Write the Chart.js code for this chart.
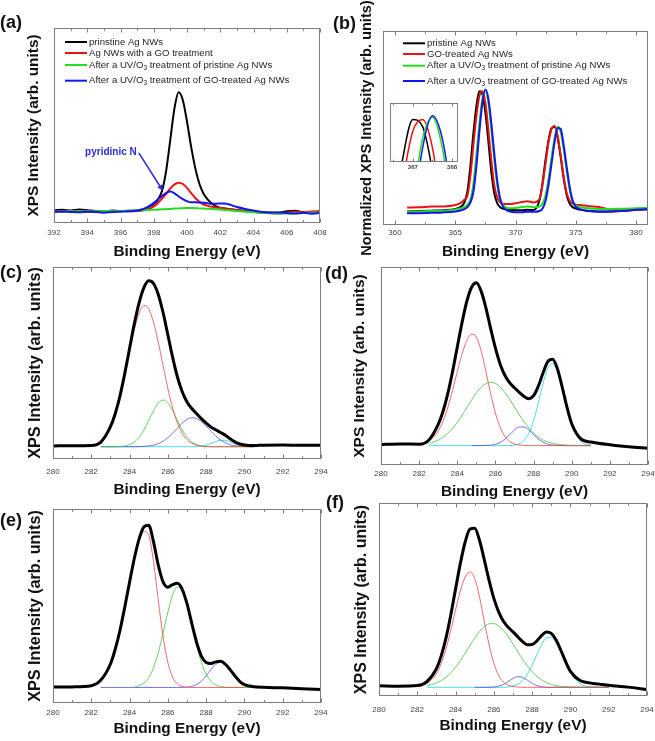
<!DOCTYPE html>
<html>
<head>
<meta charset="utf-8">
<title>XPS spectra of Ag NWs</title>
<script src="https://cdn.jsdelivr.net/npm/chart.js"></script>
<style>
  html, body { margin: 0; padding: 0; background: #fff; }
  #page { position: relative; width: 655px; height: 741px; overflow: hidden; }
  canvas { position: absolute; }
</style>
</head>
<body>
<div id="page">
  <canvas id="cA" width="330" height="264" style="left:0px;top:0px;width:330px;height:264px"></canvas>
  <canvas id="cB" width="331" height="266" style="left:324px;top:0px;width:331px;height:266px"></canvas>
  <canvas id="cC" width="330" height="241" style="left:0px;top:262px;width:330px;height:241px"></canvas>
  <canvas id="cD" width="331" height="239" style="left:324px;top:262px;width:331px;height:239px"></canvas>
  <canvas id="cE" width="330" height="239" style="left:0px;top:502px;width:330px;height:239px"></canvas>
  <canvas id="cF" width="331" height="251" style="left:324px;top:490px;width:331px;height:251px"></canvas>
  <canvas id="cI" width="78" height="76" style="left:385px;top:98px;width:78px;height:76px"></canvas>
</div>
<script>
// --- (a) N 1s ---
const X_A = [392, 392.5, 393, 393.5, 394, 394.5, 395, 395.5, 396, 396.5,
  397, 397.25, 397.5, 397.75, 398, 398.25, 398.5, 398.75, 399, 399.25, 399.5, 399.75, 400, 400.25, 400.5,
  400.75, 401, 401.25, 401.5, 401.75, 402, 402.25, 402.5, 402.75, 403,
  403.5, 404, 404.5, 405, 405.5, 406, 406.5, 407, 407.5, 408];
const A_PRISTINE = [6.5, 6.8, 6.4, 6.9, 6.6, 6.2, 6.0, 6.4, 6.1, 6.3,
  6.4, 6.8, 7.5, 8.5, 9.8, 12, 16.5, 27, 43, 59, 67, 63, 52, 39, 28,
  20, 15, 12, 10, 8.5, 7.8, 7.4, 7.2, 6.9, 6.7,
  6.2, 5.8, 5.5, 5.4, 5.2, 6.0, 6.3, 5.6, 5.6, 5.8];
const A_GO = [6.0, 5.8, 6.2, 5.9, 5.6, 5.8, 6.1, 5.9, 6.2, 6.0,
  6.2, 6.3, 6.6, 7.3, 8.5, 10.3, 12.5, 15.0, 17.8, 19.8, 20.7, 20.0, 18.0, 15.3, 12.8,
  10.8, 9.5, 8.8, 8.3, 8.0, 7.7, 7.4, 7.1, 6.8, 6.6,
  6.3, 5.8, 5.4, 5.1, 4.9, 5.4, 5.8, 5.5, 5.9, 6.0];
const A_UV = [5.8, 5.9, 6.0, 6.0, 6.1, 6.0, 6.1, 6.2, 6.2, 6.3,
  6.4, 6.5, 6.6, 6.7, 6.8, 6.9, 7.0, 7.1, 7.2, 7.4, 7.5, 7.6, 7.7, 7.7, 7.6,
  7.5, 7.4, 7.3, 7.2, 7.1, 6.9, 6.7, 6.5, 6.3, 6.1,
  5.8, 5.5, 5.2, 5.0, 4.9, 4.9, 5.0, 5.2, 5.3, 5.4];
const A_UV_GO = [5.6, 5.9, 5.7, 5.5, 5.9, 5.6, 5.3, 5.7, 5.8, 6.0,
  6.3, 6.8, 7.6, 8.8, 10.3, 12.0, 13.8, 15.5, 16.2, 15.2, 13.6, 12.3, 11.2, 10.6, 10.6,
  10.5, 10.4, 10.1, 9.9, 9.9, 10.0, 10.0, 9.6, 8.9, 8.2,
  7.2, 6.4, 5.7, 5.3, 5.4, 5.1, 4.9, 5.2, 4.8, 5.1];
const TICKS_A = [392, 394, 396, 398, 400, 402, 404, 406, 408];
const LEGEND_A = ['prinstine Ag NWs', 'Ag NWs with a GO treatment',
  'After a UV/O~3~ treatment of pristine Ag NWs', 'After a UV/O~3~ treatment of GO-treated Ag NWs'];
const ARROW_FROM = [397.1, 36];
const ARROW_TO = [398.55, 16.5];

// --- (b) Ag 3d, normalized ---
const X_B = [361, 362, 363, 364, 365, 365.5, 365.75, 366, 366.25, 366.5, 366.75, 367, 367.25, 367.5, 367.75,
  368, 368.25, 368.5, 368.75, 369, 369.5, 370, 370.5, 371, 371.5, 372, 372.25, 372.5, 372.75, 373,
  373.25, 373.5, 373.75, 374, 374.25, 374.5, 374.75, 375, 375.5, 376, 377, 378, 379, 380, 381];
const B_PRISTINE = [7.0, 7.2, 7.4, 7.6, 8.3, 9.5, 11.5, 17, 30, 47, 61, 69, 67.5, 58, 43,
  27, 16, 11, 9, 8.3, 7.8, 7.6, 7.6, 7.8, 7.7, 13, 22, 34, 44, 50,
  50.5, 45, 35, 24, 15.5, 11, 9.2, 8.5, 7.8, 7.4, 7.0, 7.0, 7.4, 7.8, 8.2];
const B_GO = [9.0, 9.1, 9.5, 9.6, 10.3, 11.5, 13, 15, 25, 41, 56, 66.5, 69, 63, 49,
  33, 20, 14, 11.5, 10.8, 10.8, 11.2, 11.8, 12.3, 11.6, 13.5, 21, 32, 43, 49.5,
  51, 46, 36, 25, 16.5, 12.5, 11, 10.5, 10.2, 9.8, 9.2, 7.8, 7.6, 7.8, 8.0];
const B_UV = [6.8, 7.0, 7.2, 7.4, 8.0, 8.6, 9.2, 10.5, 13, 21, 36, 52, 65, 69.5, 63,
  49, 33, 20, 12.5, 10, 8.6, 8.8, 9.3, 9.5, 9.2, 9.5, 11, 15.5, 24, 35,
  45, 50.5, 48, 39, 28, 18, 12, 10, 9.0, 8.6, 8.2, 8.3, 8.4, 8.6, 8.8];
const B_UV_GO = [6.0, 6.1, 6.3, 6.5, 7.0, 7.6, 8.2, 9.2, 11.5, 17, 30, 48, 63, 69.8, 65,
  52, 36, 22, 13, 9, 7, 6.6, 6.6, 6.8, 6.8, 7.2, 8.5, 12.5, 21, 32,
  43, 50, 49.5, 41, 30, 19.5, 12.5, 9.5, 7.8, 7.2, 6.8, 7.0, 7.3, 7.8, 8.3];
const TICKS_B = [360, 365, 370, 375, 380];
const TICKS_INSET = [367, 368];
const LEGEND_B = ['pristine Ag NWs', 'GO-treated Ag NWs',
  'After a UV/O~3~ treatment of pristine Ag NWs', 'After a UV/O~3~ treatment of GO-treated Ag NWs'];

// --- (c)-(f) C 1s with fitted components ---
const X_C1S = [280, 281, 282, 282.5, 283, 283.25, 283.5, 283.75, 284, 284.25, 284.5, 284.75, 285, 285.25,
  285.5, 285.75, 286, 286.25, 286.5, 286.75, 287, 287.25, 287.5, 287.75, 288, 288.25, 288.5, 288.75,
  289, 289.25, 289.5, 289.75, 290, 290.5, 291, 292, 293, 294];
const TICKS_C1S = [280, 282, 284, 286, 288, 290, 292, 294];

const C_ENV = [6.8, 6.9, 7.0, 8.8, 16.8, 23.6, 32.9, 44.6, 57.6, 70.5, 81.5, 89.3, 92.8, 91.4,
  85.7, 76.3, 64.7, 52.9, 42.7, 35.0, 29.7, 26.3, 23.6, 21.0, 18.7, 16.7, 15.2, 13.8,
  12.4, 10.5, 8.9, 7.8, 7.3, 7.0, 7.2, 7.3, 7.1, 7.2];
const C_RED = [null, null, null, 8.0, 16.3, 23.1, 32.3, 43.7, 56.0, 67.5, 76.0, 79.9, 78.2, 71.3,
  60.8, 48.6, 36.7, 26.5, 18.8, 13.4, 10.1, 8.2, 7.2, 6.7, 6.5, 6.4, 6.4, 6.4,
  6.4, 6.4, 6.4, 6.4, 6.4, 6.4, null, null, null, null];
const C_GRN = [null, null, null, 6.4, 6.4, 6.4, 6.5, 6.8, 7.5, 8.9, 11.3, 15.2, 20.1, 25.2,
  29.2, 30.7, 29.2, 25.2, 20.1, 15.2, 11.3, 8.9, 7.5, 6.8, 6.5, 6.4, 6.4, 6.4,
  6.4, 6.4, 6.4, 6.4, 6.4, 6.4, null, null, null, null];
const C_BLU = [null, null, null, 6.4, 6.4, 6.4, 6.4, 6.4, 6.4, 6.4, 6.5, 6.6, 6.8, 7.2,
  8.0, 9.3, 11.1, 13.5, 16.1, 18.7, 20.6, 21.5, 21.1, 19.5, 17.2, 14.5, 12.0, 9.9,
  8.5, 7.5, 6.9, 6.6, 6.5, 6.4, null, null, null, null];
const C_CYN = [null, null, null, 6.4, 6.4, 6.4, 6.4, 6.4, 6.4, 6.4, 6.4, 6.4, 6.4, 6.4,
  6.4, 6.4, 6.4, 6.4, 6.4, 6.4, 6.4, 6.4, 6.5, 6.7, 7.2, 8.1, 9.1, 9.8,
  9.75, 8.9, 7.9, 7.1, 6.65, 6.4, null, null, null, null];

const D_ENV = [10.4, 10.6, 10.5, 12.5, 20.5, 27.0, 36.0, 47.1, 59.6, 72.0, 82.7, 89.8, 92.0, 87.8,
  79.4, 68.9, 59.0, 50.9, 45.2, 41.5, 39.0, 36.7, 34.6, 33.5, 35.0, 39.8, 46.6, 52.3,
  53.4, 48.6, 39.4, 29.2, 20.8, 13.0, 11.6, 10.2, 9.2, 8.4];
const D_RED = [null, null, null, 11.8, 17.1, 22.1, 29.1, 37.7, 47.1, 56.0, 62.8, 66.1, 64.7, 57.7,
  47.3, 36.0, 26.2, 19.0, 14.4, 11.9, 10.6, 10.1, 9.9, 9.8, 9.8, 9.8, 9.8, 9.8,
  9.8, 9.8, 9.8, 9.8, 9.8, 9.8, 9.8, null, null, null];
const D_GRN = [null, null, null, 10.8, 12.5, 14.0, 16.0, 18.5, 21.6, 25.1, 29.0, 32.8, 36.4, 39.2,
  41.1, 41.8, 41.2, 39.4, 36.6, 33.1, 29.3, 25.4, 21.8, 18.7, 16.1, 14.1, 12.6, 11.6,
  10.9, 10.45, 10.2, 10.0, 9.9, 9.8, 9.8, null, null, null];
const D_BLU = [null, null, null, null, null, null, null, null, null, null, null, 9.8, 9.8, 9.8,
  9.9, 10.0, 10.5, 11.4, 13.1, 15.3, 17.7, 19.2, 19.2, 17.7, 15.4, 13.2, 11.5, 10.5,
  10.05, 9.9, 9.8, 9.8, 9.8, 9.8, 9.8, null, null, null];
const D_CYN = [null, null, null, 9.8, 9.8, 9.8, 9.8, 9.8, 9.8, 9.8, 9.8, 9.8, 9.8, 9.8,
  9.8, 9.8, 9.8, 9.8, 9.8, 9.8, 10.1, 10.7, 12.4, 16.0, 22.4, 31.4, 41.4, 49.1,
  51.3, 47.1, 38.3, 28.3, 20.0, 11.7, 10.0, null, null, null];

const E_ENV = [8.2, 8.3, 8.9, 11.8, 20.1, 27.7, 37.5, 49.5, 62.3, 74.6, 84.6, 90.8, 91.6, 83.1,
  71.0, 62.4, 59.7, 61.0, 61.7, 58.6, 51.2, 41.0, 31.3, 24.2, 20.9, 20.4, 21.2, 21.5,
  20.05, 17.2, 14.0, 11.2, 9.5, 8.4, 8.1, 7.8, 7.4, 6.9];
const E_RED = [null, null, 8.9, 11.8, 20.1, 27.7, 37.5, 49.5, 62.3, 74.3, 83.7, 88.5, 86.5, 72.9,
  53.0, 34.3, 20.9, 13.3, 9.8, 8.6, 8.15, 8.0, 8.0, 8.0, 8.0, 8.0, 8.0, 8.0,
  8.0, 8.0, 8.0, 8.0, 8.0, null, null, null, null, null];
const E_GRN = [null, null, null, null, null, null, null, null, null, 8.3, 8.9, 10.3, 13.1, 18.2,
  26.0, 36.1, 46.8, 55.7, 59.9, 58.0, 50.8, 40.4, 29.8, 21.0, 14.9, 11.2, 9.3, 8.5,
  8.15, 8.0, 8.0, 8.0, 8.0, 8.0, null, null, null, null];
const E_BLU = [null, null, null, 8.0, 8.0, 8.0, 8.0, 8.0, 8.0, 8.0, 8.0, 8.0, 8.0, 8.0,
  8.0, 8.0, 8.0, 8.0, 8.0, 8.0, 8.2, 8.6, 9.5, 11.2, 14.0, 17.2, 19.9, 21.0,
  19.9, 17.2, 14.0, 11.2, 9.5, 8.2, null, null, null, null];

const F_ENV = [5.3, 5.1, 5.4, 7.5, 14.2, 20.8, 30.1, 42.0, 55.5, 68.7, 79.8, 86.5, 86.9, 80.7,
  70.6, 59.9, 50.6, 43.6, 38.7, 35.6, 33.2, 30.7, 28.2, 26.6, 26.7, 28.6, 31.4, 33.1,
  32.4, 29.0, 23.7, 17.8, 12.8, 8.0, 6.8, 5.6, 4.6, 3.4];
const F_RED = [null, null, null, 6.2, 11.5, 16.8, 24.4, 34.0, 44.6, 54.4, 61.6, 64.3, 60.9, 51.3,
  38.7, 26.5, 16.9, 10.7, 7.2, 5.6, 4.9, 4.6, 4.5, 4.5, 4.5, 4.5, 4.5, 4.5,
  4.5, 4.5, 4.5, 4.5, 4.5, 4.5, 4.5, 4.5, null, null];
const F_GRN = [null, null, null, 5.3, 6.7, 8.0, 9.7, 12.0, 14.9, 18.3, 22.2, 26.2, 30.0, 33.4,
  35.9, 37.4, 37.5, 36.3, 34.0, 30.8, 27.0, 23.0, 19.1, 15.6, 12.6, 10.2, 8.3, 7.0,
  6.0, 5.4, 5.0, 4.8, 4.65, 4.55, 4.5, 4.5, null, null];
const F_BLU = [null, null, null, null, null, null, null, null, null, null, null, null, 4.5, 4.5,
  4.5, 4.5, 4.7, 5.1, 6.0, 7.5, 9.1, 10.0, 9.6, 8.2, 6.6, 5.4, 4.8, 4.5,
  4.5, 4.5, 4.5, 4.5, 4.5, 4.5, 4.5, 4.5, null, null];
const F_CYN = [null, null, null, 4.5, 4.5, 4.5, 4.5, 4.5, 4.5, 4.5, 4.5, 4.5, 4.5, 4.5,
  4.5, 4.5, 4.5, 4.5, 4.5, 4.7, 5.2, 6.1, 8.0, 11.3, 16.0, 21.5, 26.8, 30.1,
  30.4, 27.6, 22.7, 17.0, 12.1, 6.4, 4.8, 4.5, null, null];

const FONT = "'Liberation Sans', Arial, sans-serif";
Chart.defaults.font.family = FONT;
Chart.defaults.color = '#222';

const SERIES_COLORS = ['#000000', '#ee1111', '#22dd22', '#1515ee'];
const COMP = {
  red: 'rgba(235,70,70,0.8)',
  green: 'rgba(60,200,60,0.8)',
  blue: 'rgba(80,80,225,0.8)',
  cyan: 'rgba(40,215,230,0.85)'
};

function line(xs, ys, color, width, order) {
  return {
    data: xs.map((x, i) => ({ x: x, y: ys[i] })),
    borderColor: color,
    borderWidth: width,
    order: order,
    pointRadius: 0,
    fill: false,
    cubicInterpolationMode: 'monotone'
  };
}

// frame, inward ticks, panel letter, legend and arrow
function decor(p) {
  return {
    id: 'decor',
    afterDatasetsDraw(chart) {
      const { ctx, chartArea: area, scales } = chart;
      const x = scales.x;
      ctx.save();
      const L = Math.round(area.left) + 0.5, T = Math.round(area.top) + 0.5;
      const R = Math.round(area.right) - 0.5, B = Math.round(area.bottom) - 0.5;
      ctx.strokeStyle = '#7d7d7d';
      ctx.lineWidth = 1;
      ctx.strokeRect(L, T, R - L, B - T);
      ctx.beginPath();
      const k0 = Math.ceil(x.min / p.minor - 1e-9), k1 = Math.floor(x.max / p.minor + 1e-9);
      for (let k = k0; k <= k1; k++) {
        const v = k * p.minor;
        const isMajor = Math.abs(v / p.major - Math.round(v / p.major)) < 1e-6;
        const len = isMajor ? p.tickLen : p.tickLen * 0.6;
        const px = Math.round(x.getPixelForValue(v)) + 0.5;
        ctx.moveTo(px, B); ctx.lineTo(px, B - len);
        ctx.moveTo(px, T); ctx.lineTo(px, T + len);
      }
      ctx.stroke();

      if (p.tag) {
        ctx.fillStyle = '#111';
        ctx.font = 'bold 18px ' + FONT;
        ctx.textAlign = 'left';
        ctx.textBaseline = 'alphabetic';
        ctx.fillText(p.tag, p.tagX, p.tagY);
      }

      if (p.legend) {
        const lg = p.legend;
        ctx.textAlign = 'left';
        ctx.textBaseline = 'middle';
        lg.labels.forEach((label, i) => {
          const y = area.top + lg.rows[i];
          ctx.strokeStyle = SERIES_COLORS[i];
          ctx.lineWidth = 2;
          ctx.beginPath();
          ctx.moveTo(area.left + lg.x0, y);
          ctx.lineTo(area.left + lg.x1, y);
          ctx.stroke();
          let tx = area.left + lg.tx;
          ctx.fillStyle = '#1e1e1e';
          label.split('~').forEach((part, j) => {
            const sub = j % 2 === 1;
            ctx.font = (sub ? '6.5px ' : '9.6px ') + FONT;
            ctx.fillText(part, tx, sub ? y + 3 : y);
            tx += ctx.measureText(part).width;
          });
        });
      }

      if (p.arrow) {
        const a = p.arrow, ys = scales.y;
        const x1 = x.getPixelForValue(a.from[0]), y1 = ys.getPixelForValue(a.from[1]);
        const x2 = x.getPixelForValue(a.to[0]), y2 = ys.getPixelForValue(a.to[1]);
        const ang = Math.atan2(y2 - y1, x2 - x1);
        const hx = x2 - 6 * Math.cos(ang), hy = y2 - 6 * Math.sin(ang);
        ctx.strokeStyle = a.color;
        ctx.fillStyle = a.color;
        ctx.lineWidth = 1.5;
        ctx.beginPath(); ctx.moveTo(x1, y1); ctx.lineTo(hx, hy); ctx.stroke();
        ctx.beginPath();
        ctx.moveTo(x2, y2);
        ctx.lineTo(hx + 3 * Math.sin(ang), hy - 3 * Math.cos(ang));
        ctx.lineTo(hx - 3 * Math.sin(ang), hy + 3 * Math.cos(ang));
        ctx.closePath();
        ctx.fill();
        ctx.font = 'bold 10px ' + FONT;
        ctx.textAlign = 'right';
        ctx.textBaseline = 'middle';
        ctx.fillText(a.text, x1 - 2, y1 - 1);
      }
      ctx.restore();
    }
  };
}

function panel(id, p) {
  return new Chart(document.getElementById(id), {
    type: 'line',
    data: { datasets: p.datasets },
    options: {
      responsive: false,
      animation: false,
      events: [],
      layout: { padding: p.pad },
      plugins: { legend: { display: false }, tooltip: { enabled: false } },
      scales: {
        x: {
          type: 'linear', min: p.xMin, max: p.xMax,
          grid: { display: false, drawTicks: false },
          border: { display: false },
          ticks: {
            autoSkip: false, maxRotation: 0, padding: p.tickPad, color: '#444',
            font: { size: p.tickSize || 8, weight: p.tickWeight || 'normal' }
          },
          afterBuildTicks: s => { s.ticks = p.xTicks.map(v => ({ value: v })); },
          afterFit: s => { s.height = p.xAxisH; s.paddingLeft = 0; s.paddingRight = 0; },
          title: {
            display: !!p.xTitle, text: p.xTitle || '', color: '#111',
            font: { size: 15.4, weight: 'bold' }, padding: { top: 0, bottom: p.xTitlePad || 0 }
          }
        },
        y: {
          display: !!p.yTitle,
          min: p.yMin === undefined ? 0 : p.yMin,
          max: p.yMax === undefined ? 100 : p.yMax,
          grid: { display: false, drawTicks: false },
          border: { display: false },
          ticks: { display: false },
          afterFit: s => { s.width = p.yAxisW; s.paddingTop = 0; s.paddingBottom = 0; },
          title: {
            display: !!p.yTitle, text: p.yTitle || '', color: '#111',
            font: { size: p.yTitleSize || 15.4, weight: 'bold' }, padding: { top: p.yTitlePad || 0, bottom: 0 }
          }
        }
      }
    },
    plugins: [decor(p)]
  });
}

const XTITLE = 'Binding Energy (eV)';
const YTITLE = 'XPS Intensity (arb. units)';

function c1s(env, red, green, blue, cyan) {
  const ds = [line(X_C1S, env, '#000000', 3, 0),
    line(X_C1S, red, COMP.red, 1, 1),
    line(X_C1S, green, COMP.green, 1, 2),
    line(X_C1S, blue, COMP.blue, 1, 3)];
  if (cyan) ds.push(line(X_C1S, cyan, COMP.cyan, 1, 4));
  return ds;
}

panel('cA', {
  datasets: [line(X_A, A_PRISTINE, SERIES_COLORS[0], 2, 3), line(X_A, A_GO, SERIES_COLORS[1], 2, 2),
    line(X_A, A_UV, SERIES_COLORS[2], 2, 1), line(X_A, A_UV_GO, SERIES_COLORS[3], 2, 0)],
  xMin: 392, xMax: 408, xTicks: TICKS_A, major: 2, minor: 1, tickLen: 4,
  pad: { left: 0, top: 28, right: 10, bottom: 0 }, yAxisW: 54, xAxisH: 41,
  tickPad: 5.2, xTitle: XTITLE, xTitlePad: 2.8, yTitle: YTITLE, yTitlePad: 24.8,
  tag: '(a)', tagX: 0, tagY: 28,
  legend: { labels: LEGEND_A, x0: 11, x1: 33, tx: 35, rows: [14, 25, 37, 52.7] },
  arrow: { from: ARROW_FROM, to: ARROW_TO, text: 'pyridinic N', color: '#2a2ad8' }
});

panel('cB', {
  datasets: [line(X_B, B_PRISTINE, SERIES_COLORS[0], 2, 3), line(X_B, B_GO, SERIES_COLORS[1], 2, 2),
    line(X_B, B_UV, SERIES_COLORS[2], 2, 1), line(X_B, B_UV_GO, SERIES_COLORS[3], 2, 0)],
  xMin: 359, xMax: 381, xTicks: TICKS_B, major: 5, minor: 2.5, tickLen: 4,
  pad: { left: 0, top: 31, right: 7, bottom: 0 }, yAxisW: 59, xAxisH: 41,
  tickPad: 3.2, xTitle: XTITLE, xTitlePad: 4.8,
  yTitle: 'Normalized XPS Intensity (arb. units)', yTitleSize: 14.6, yTitlePad: 34,
  tag: '(b)', tagX: 9, tagY: 29,
  legend: { labels: LEGEND_B, x0: 20, x1: 42, tx: 44, rows: [12.3, 23, 34.7, 50] }
});

panel('cC', {
  datasets: c1s(C_ENV, C_RED, C_GRN, C_BLU, C_CYN),
  xMin: 280, xMax: 294, xTicks: TICKS_C1S, major: 2, minor: 1, tickLen: 4,
  pad: { left: 0, top: 5, right: 9, bottom: 0 }, yAxisW: 53, xAxisH: 44,
  tickPad: 7.5, xTitle: XTITLE, xTitlePad: 3.8, yTitle: YTITLE, yTitleSize: 16.2, yTitlePad: 25.8,
  tag: '(c)', tagX: 0, tagY: 16
});

panel('cD', {
  datasets: c1s(D_ENV, D_RED, D_GRN, D_BLU, D_CYN),
  xMin: 280, xMax: 294, xTicks: TICKS_C1S, major: 2, minor: 1, tickLen: 4,
  pad: { left: 0, top: 5, right: 7, bottom: 0 }, yAxisW: 57, xAxisH: 36,
  tickPad: 3.5, xTitle: XTITLE, xTitlePad: 0, yTitle: YTITLE, yTitleSize: 15.5, yTitlePad: 26.8,
  tag: '(d)', tagX: 1, tagY: 17
});

panel('cE', {
  datasets: c1s(E_ENV, E_RED, E_GRN, E_BLU, null),
  xMin: 280, xMax: 294, xTicks: TICKS_C1S, major: 2, minor: 1, tickLen: 4,
  pad: { left: 0, top: 7, right: 9, bottom: 0 }, yAxisW: 53, xAxisH: 38,
  tickPad: 4.9, xTitle: XTITLE, xTitlePad: 2.8, yTitle: YTITLE, yTitleSize: 16.2, yTitlePad: 25.8,
  tag: '(e)', tagX: 0, tagY: 24
});

panel('cF', {
  datasets: c1s(F_ENV, F_RED, F_GRN, F_BLU, F_CYN),
  xMin: 280, xMax: 294, xTicks: TICKS_C1S, major: 2, minor: 1, tickLen: 4,
  pad: { left: 0, top: 13, right: 8, bottom: 0 }, yAxisW: 55, xAxisH: 45,
  tickPad: 9.2, xTitle: XTITLE, xTitlePad: 5.8, yTitle: YTITLE, yTitleSize: 16.0, yTitlePad: 28.3,
  tag: '(f)', tagX: 2, tagY: 18
});

// inset of (b): the 3d5/2 peak tops
panel('cI', {
  datasets: [line(X_B, B_PRISTINE, SERIES_COLORS[0], 1.5, 3), line(X_B, B_GO, SERIES_COLORS[1], 1.5, 2),
    line(X_B, B_UV, SERIES_COLORS[2], 1.5, 1), line(X_B, B_UV_GO, SERIES_COLORS[3], 1.5, 0)],
  xMin: 366.42, xMax: 368.15, yMin: 60, yMax: 72.5, xTicks: TICKS_INSET, major: 1, minor: 0.5, tickLen: 3,
  pad: { left: 5, top: 5, right: 5, bottom: 0 }, yAxisW: 0, xAxisH: 12,
  tickPad: 1.4, tickSize: 6, tickWeight: 'bold'
});
</script>
</body>
</html>
